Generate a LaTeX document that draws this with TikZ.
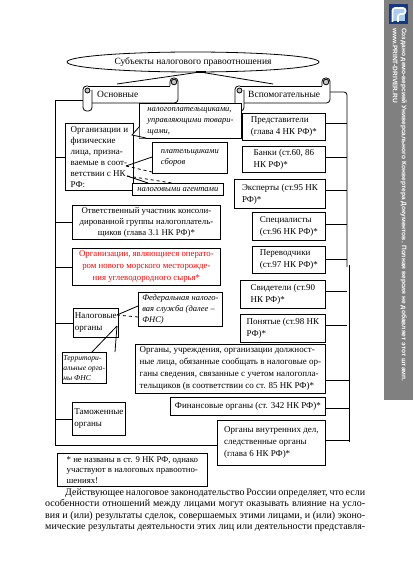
\documentclass[tikz,border=0pt]{standalone}
\usepackage{fontspec}
\setmainfont{Liberation Serif}
\newfontfamily\sidefont{Liberation Sans}
\usetikzlibrary{shapes.geometric}
\definecolor{sidegray}{RGB}{128,128,128}
\definecolor{logoblue}{RGB}{25,55,125}
\definecolor{logolight}{RGB}{170,205,240}
\definecolor{pureRed}{RGB}{255,0,0}
\begin{document}
\begin{tikzpicture}[x=1pt,y=-1pt,
 ln/.style={line width=0.8pt},
 bx/.style={draw, line width=0.8pt, inner sep=2pt, align=left, font=\fontsize{9}{12}\selectfont, anchor=north west},
 co/.style={bx, font=\fontsize{8.5}{11}\selectfont\itshape, fill=white},
 roll/.style={line width=0.8pt, fill=gray!45},
 para/.style={anchor=base west, inner sep=0pt, font=\fontsize{10}{11.5}\selectfont}
]
\useasboundingbox (0,0) rectangle (413,585);

% ---------- title ellipse
\node[draw, ln, ellipse, minimum width=252, minimum height=20, inner sep=0pt, font=\fontsize{9.5}{11}\selectfont] (subj) at (193,62) {Субъекты налогового правоотношения};
\coordinate (osntop) at (117,84);
\coordinate (vsptop) at (273,84);
\coordinate (fork) at (200,72);
\draw[ln] (fork) -- (osntop);
\draw[ln] (fork) -- (vsptop);
\draw[line width=1.8pt] (196,72) -- (206,72);

% ---------- left scroll
\draw[ln] (88,86) -- (170,86);
\draw[ln, rounded corners=3.5] (170,86) -- (170,78) -- (178,78) -- (178,103) -- (92,103);
\filldraw[roll] (174,82) circle (2.8);
\draw[ln, rounded corners=3.5] (88,86) -- (83,86) -- (83,111) -- (92,111) -- (92,90);
\filldraw[roll] (87.5,90.5) circle (2.5);
\node[anchor=west, inner sep=0pt, font=\fontsize{9.5}{11}\selectfont] (osn) at (97,94.5) {Основные};
\coordinate (Lroll) at (83,100);

% ---------- right scroll
\draw[ln] (240,86) -- (322,86);
\draw[ln, rounded corners=3.5] (322,86) -- (322,78) -- (330,78) -- (330,103) -- (244,103);
\filldraw[roll] (326,82) circle (2.8);
\draw[ln, rounded corners=3.5] (240,86) -- (235,86) -- (235,111) -- (244,111) -- (244,90);
\filldraw[roll] (239.5,90.5) circle (2.5);
\node[anchor=west, inner sep=0pt, font=\fontsize{9.5}{11}\selectfont] (vsp) at (248,94.5) {Вспомогательные};
\coordinate (Rroll) at (330,92);

% ---------- bus lines
\coordinate (Ltop) at (55,100);
\coordinate (Lbot) at (55,445);
\coordinate (Rtop) at (347,92);
\coordinate (Rmid) at (347,267);
\coordinate (Rmid2) at (349,265);
\coordinate (Rbot) at (349,442);
\draw[ln, rounded corners=3] (Rroll) -- (Rtop) -- (Rmid);
\draw[ln] (Rmid2) -- (Rbot);

% ---------- right column boxes
\node[bx, minimum width=83, minimum height=27] (rep) at (242,113) {Представители\\(глава 4 НК РФ)*};
\node[bx, minimum width=83, minimum height=26] (bank) at (242,146) {Банки (ст.60, 86\\НК РФ)*};
\node[bx, minimum width=91, minimum height=29] (exp) at (234,179) {Эксперты (ст.95 НК\\РФ)*};
\node[bx, minimum width=73, minimum height=28] (spec) at (252,212) {Специалисты\\(ст.96 НК РФ)*};
\node[bx, minimum width=73, minimum height=27] (trans) at (252,246) {Переводчики\\(ст.97 НК РФ)*};
\node[bx, minimum width=85, minimum height=28] (wit) at (240,280) {Свидетели (ст.90\\НК РФ)*};
\node[bx, minimum width=85, minimum height=28] (pon) at (240,314) {Понятые (ст.98 НК\\РФ)*};
\node[bx, minimum width=190, minimum height=49] (org) at (135,344) {Органы, учреждения, организации должност-\\ные лица, обязанные сообщать в налоговые ор-\\ганы сведения, связанные с учетом налогопла-\\тельщиков (в соответствии со ст. 85 НК РФ)*};
\node[bx, minimum width=155, minimum height=18] (fin) at (170,397) {Финансовые органы (ст. 342 НК РФ)*};
\node[bx, minimum width=108, minimum height=45] (ovd) at (217,420) {Органы внутренних дел,\\следственные органы\\(глава 6 НК РФ)*};

\foreach \n/\dy in {rep/-3, bank/-2, exp/-3, spec/-2, trans/-1, wit/-3, pon/-3}
  \draw[ln] ([yshift=-\dy]\n.east) -- ([yshift=-\dy]\n.east -| Rtop);
\draw[ln] ([yshift=-11.5]org.east) -- ([yshift=-11.5]org.east -| Rbot);
\draw[ln] ([yshift=-2]fin.east) -- ([yshift=-2]fin.east -| Rbot);
\draw[ln] ([yshift=2.5]ovd.east) -- ([yshift=2.5]ovd.east -| Rbot);

% left bus (ends in a run to the ОВД box)
\draw[ln] (Lroll) -- (Ltop) -- (Lbot) -- (Lbot -| ovd.west);

% ---------- left column boxes
\node[bx, minimum width=68, minimum height=67, font=\fontsize{9}{11}\selectfont] (orgfl) at (65,123) {Организации и\\физические\\лица, призна-\\ваемые в соот-\\ветствии с НК\\РФ:};
\node[bx, minimum width=148, minimum height=33, align=center, font=\fontsize{8.8}{11}\selectfont] (otv) at (72,205) {Ответственный участник консоли-\\дированной группы налогоплатель-\\щиков (глава 3.1 НК РФ)*};
\node[bx, minimum width=148, minimum height=37, align=center, text=pureRed, font=\fontsize{8.8}{12}\selectfont] (red) at (72,248) {Организации, являющиеся операто-\\ром нового морского месторожде-\\ния углеводородного сырья*};
\node[bx, minimum width=42, minimum height=29, inner sep=1.5pt] (nal) at (73,308) {Налоговые\\органы};
\node[bx, minimum width=53, minimum height=33] (tam) at (72,402) {Таможенные\\органы};
\node[bx, minimum width=150, minimum height=33, inner sep=1.5pt, font=\fontsize{8.8}{10.4}\selectfont] (foot) at (57,453) {* не названы в ст. 9 НК РФ, однако\\участвуют в налоговых правоотно-\\шениях!};

\draw[ln] ([yshift=-1]orgfl.west) -- ([yshift=-1]orgfl.west -| Ltop);
\foreach \n in {otv, red, nal, tam}
  \draw[ln] (\n.west) -- (\n.west -| Ltop);

% ---------- callouts
\node[co, minimum width=102, minimum height=35] (c1) at (139,103) {налогоплательщиками,\\управляющими товари-\\щами,};
\coordinate (c1v) at (132,135);
\fill[white] (139.4,127) -- (c1v) -- (146,138.4) -- (139.4,138.4) -- cycle;
\draw[ln] (139,127) -- (c1v) -- (146,138);

\node[co, minimum width=75, minimum height=31] (c2) at (152,142) {плательщиками\\сборов};
\coordinate (c2v) at (126,166);
\draw[ln] (c2v) -- (c2.west |- 0,157);
\draw[ln, dashed] (c2v) -- (c2.west |- 0,172);

\node[co, minimum width=91, minimum height=12, inner sep=1pt] (c3) at (132,183) {налоговыми агентами};
\coordinate (c3v) at (127,176);
\draw[ln] (c3v) -- (c3.north -| 148,0);
\draw[ln, dashed] (c3v) -- (c3.north -| 172,0);

\node[co, minimum width=84, minimum height=34] (c4) at (138,292) {Федеральная налого-\\вая служба (далее –\\ФНС)};
\coordinate (c4v) at (117,315);
\draw[ln] (c4v) -- (c4.west |- 0,306);
\draw[ln, dashed] (c4v) -- (c4.west |- 0,317);

\node[co, minimum width=43, minimum height=31, inner sep=1pt, font=\fontsize{7.6}{10}\selectfont\itshape] (c5) at (62,352) {Территори-\\альные орга-\\ны ФНС};
\coordinate (c5v) at (117,326);
\draw[ln] (c5v) -- (c5.north -| 92,0);
\draw[ln] (c5v) -- (c5.north -| 115,0);

% ---------- paragraph
\node[para] (p1) at (65,495) {\makebox[300pt][s]{Действующее налоговое законодательство России определяет, что если}};
\node[para] (p2) at (45,506.5) {\makebox[320pt][s]{особенности отношений между лицами могут оказывать влияние на усло-}};
\node[para] (p3) at (45,518) {\makebox[320pt][s]{вия и (или) результаты сделок, совершаемых этими лицами, и (или) эконо-}};
\node[para] (p4) at (45,529.5) {\makebox[320pt][s]{мические результаты деятельности этих лиц или деятельности представля-}};

% ---------- side stamp
\fill[sidegray] (384,0) rectangle (413,400);
\fill[logoblue] (389,4) rectangle (408,24);
\fill[logolight] (393,9) rectangle (405,21);
\draw[white, line width=1.6pt, rounded corners=2.5] (392.5,22) -- (392.5,8) -- (405.5,8) -- (405.5,14) -- (398,14) -- (398,22);
\node[rotate=-90, anchor=north west, inner sep=0pt, align=left, text=white, font=\sidefont\bfseries\fontsize{6.6}{9}\selectfont] (stamp) at (407,28) {Создано демо-версией Универсального Конвертера Документов. Полная версия не добавляет этот штамп.\\www.PRINT-DRIVER.RU};
\end{tikzpicture}
\end{document}
